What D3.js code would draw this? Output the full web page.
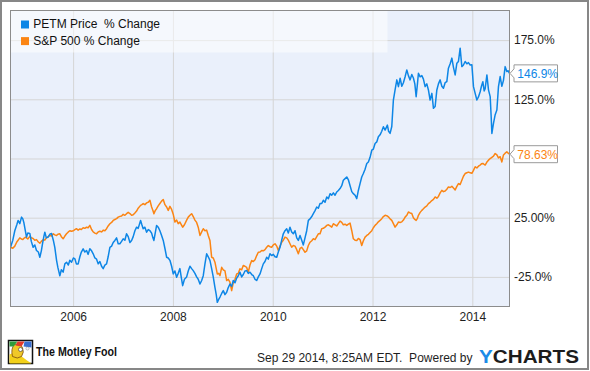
<!DOCTYPE html>
<html>
<head>
<meta charset="utf-8">
<script src="https://cdn.jsdelivr.net/npm/d3@7"></script>
<style>
  body { margin: 0; background: #fff; }
  svg { display: block; font-family: "Liberation Sans", Arial, sans-serif; }
</style>
</head>
<body>
<svg id="chart" width="590" height="371"></svg>
<script>
// dates as decimal years (Sep 29 2004 .. Sep 29 2014)
var times = [
  2004.745,2004.791,2004.831,2004.871,2004.897,2004.932,2004.966,2004.992,2005.012,2005.042,
  2005.066,2005.092,2005.132,2005.162,2005.198,2005.232,2005.266,2005.303,2005.333,2005.363,
  2005.387,2005.413,2005.433,2005.463,2005.499,2005.533,2005.567,2005.603,2005.633,2005.668,
  2005.694,2005.734,2005.764,2005.800,2005.834,2005.868,2005.904,2005.934,2005.968,2006.005,
  2006.035,2006.065,2006.101,2006.135,2006.165,2006.201,2006.235,2006.269,2006.301,2006.335,
  2006.370,2006.402,2006.436,2006.470,2006.502,2006.536,2006.570,2006.602,2006.636,2006.670,
  2006.702,2006.737,2006.771,2006.803,2006.837,2006.871,2006.903,2006.937,2006.971,2007.003,
  2007.037,2007.071,2007.104,2007.138,2007.172,2007.204,2007.238,2007.272,2007.304,2007.352,
  2007.378,2007.404,2007.438,2007.473,2007.505,2007.539,2007.573,2007.599,2007.619,2007.645,
  2007.673,2007.705,2007.739,2007.773,2007.806,2007.840,2007.874,2007.906,2007.940,2007.974,
  2008.006,2008.040,2008.074,2008.106,2008.140,2008.170,2008.195,2008.231,2008.275,2008.307,
  2008.341,2008.375,2008.407,2008.441,2008.475,2008.507,2008.542,2008.576,2008.608,2008.642,
  2008.676,2008.708,2008.742,2008.776,2008.808,2008.842,2008.868,2008.889,2008.917,2008.943,
  2008.977,2009.009,2009.043,2009.077,2009.109,2009.143,2009.177,2009.209,2009.244,2009.278,
  2009.310,2009.344,2009.378,2009.410,2009.444,2009.478,2009.510,2009.544,2009.579,2009.611,
  2009.645,2009.679,2009.711,2009.745,2009.779,2009.811,2009.845,2009.879,2009.911,2009.945,
  2009.979,2010.012,2010.046,2010.080,2010.112,2010.146,2010.180,2010.212,2010.246,2010.280,
  2010.312,2010.346,2010.380,2010.413,2010.447,2010.481,2010.513,2010.547,2010.581,2010.613,
  2010.647,2010.681,2010.714,2010.748,2010.782,2010.814,2010.848,2010.882,2010.914,2010.948,
  2010.982,2011.014,2011.048,2011.083,2011.115,2011.149,2011.183,2011.215,2011.249,2011.283,
  2011.315,2011.349,2011.383,2011.415,2011.450,2011.484,2011.516,2011.550,2011.584,2011.616,
  2011.650,2011.684,2011.716,2011.750,2011.784,2011.816,2011.851,2011.885,2011.917,2011.951,
  2011.985,2012.017,2012.051,2012.085,2012.117,2012.151,2012.185,2012.218,2012.252,2012.298,
  2012.322,2012.352,2012.386,2012.418,2012.452,2012.487,2012.519,2012.553,2012.587,2012.619,
  2012.653,2012.687,2012.719,2012.753,2012.787,2012.819,2012.848,2012.874,2012.900,2012.920,
  2012.954,2012.988,2013.020,2013.054,2013.088,2013.120,2013.154,2013.189,2013.221,2013.255,
  2013.289,2013.321,2013.355,2013.389,2013.421,2013.455,2013.489,2013.521,2013.556,2013.590,
  2013.622,2013.656,2013.690,2013.722,2013.756,2013.790,2013.822,2013.856,2013.890,2013.922,
  2013.957,2013.991,2014.023,2014.057,2014.091,2014.123,2014.157,2014.183,2014.211,2014.237,
  2014.257,2014.292,2014.324,2014.358,2014.378,2014.392,2014.424,2014.458,2014.492,2014.524,
  2014.558,2014.592,2014.624,2014.658,2014.692,2014.719,2014.745
];

var petmValues = [
  0,6,14,19,22.7,20,25.5,24,21,14,
  8.6,12,11.7,5,0,2,-2.7,-4,-8.4,-3,
  3,9,12.8,8,8.6,11,11.7,6,0,-11,
  -17,-24,-19,-21,-14,-12.6,-15,-11,-12.6,-9,
  -9.7,-14,-14,-8,-4,-1.3,-4,-2.7,-6,-1.3,
  -3,-5.5,-9,-10,-14,-12,-16,-18,-15,-14,
  -8,0,1,4,5.8,8,3,3,5,7.2,
  6,11.4,9,4,5.8,9,14,17,16,22.7,
  19,15.7,17,12.8,15,14,12,8,5.8,12,
  18.5,17,14,10,5.8,-1,-8.4,-9,-11,-16,
  -22.5,-20,-25.3,-22,-18,-26,-32.4,-27,-25,-20,
  -16,-18,-19.7,-22,-25,-27,-31,-28,-24,-14,
  -5.5,-8,-11,-18,-25,-33.8,-40,-46.5,-44,-42,
  -39,-36.6,-40,-38,-34,-31,-33,-28,-30,-26,
  -24,-21,-25,-23,-20,-19.7,-22,-21,-23,-24,
  -27,-28,-25,-22.5,-18,-14,-12,-8.4,-10,-5.5,
  -7,-6,-8,-8.4,-4,0,6,11.4,14,15.7,
  12,17,13,11.4,14,8,5.8,10,6,2,
  8,14,22.7,24,26,28.4,31,34,33,36.9,
  37,39.7,38,42.5,41,45.3,44,46,44,46.7,
  48,49.6,52,56.6,58,59.4,57,52,47,45.3,
  44,41.1,48,53.8,59.4,62.3,66,70.8,72,76,
  82,83,87.7,89,93.3,95,98,101.8,99,103.2,
  98,96.2,102,124.4,132.9,141.4,135.7,142.8,136,139,
  144,149.8,145,141.4,146,143,138,127.2,138,147,
  144,145,142,135.7,138,132.9,124.4,130,117.4,119,
  132.9,138,141.4,136,134.3,139,140,151.3,155,159.8,
  152,145.6,155.5,157,168.2,152.6,154,156.9,155,156,
  154,154.1,135.7,130,124.4,127,131.4,136,139.9,132,
  134,145.6,133,127.2,110,96.2,104.7,112,116,135.7,
  144.2,136,141,152.6,148.4,149,146.9
];

var spValues = [
  0,-0.8,1,4.5,6,8,7,6.5,7.5,8.5,
  8,7,9.2,8,7.5,6,6.5,4.5,3.5,5,
  6,6.4,6,8,9,10,9.5,11.4,10.5,10,
  11,11.4,9,7.2,9.5,11.4,13,14,13.5,14,
  15,15.7,14.5,15.5,15,16.5,16,17,16.5,18.5,
  15,13,12,11.4,13,13.6,13,14.5,14,15.7,
  18,19.9,21,22.7,23.5,24.2,25.5,26.1,26.5,27.8,
  27,28.4,29.5,28.5,27,27.5,29,30.6,33,35.4,
  36,36.9,36,37.5,38,39.7,34,31,28.4,31,
  32.6,35,37,39,40.3,36,34,31.2,34.6,32,
  28,21.3,23,20,21.3,19,17,19,23,25.5,
  27,28.4,26,23,21,17,10,13,15.7,14,
  14.5,10,5.8,-8.4,-9,-12.6,-18,-22.5,-22,-23.9,
  -16.9,-19,-20,-28.1,-27,-29.5,-36.6,-30,-27,-22.5,
  -22,-18.2,-19,-15.4,-16,-17,-21,-15,-11.2,-12,
  -10.5,-7,-4.2,-4,-2.7,-3,-2,0,1.5,0.5,
  0,2,3,1,-2.7,1,4.3,6,8.6,8,
  6,3,0,1.5,1,-2,-5.5,-1,0,-2,
  -4.2,-3,1.5,4.3,5.5,7.2,6.5,9,11.4,11.4,
  15.7,16,17,18.5,19,18,17,19.9,19,18,
  20,22.1,21,19,19.5,18.5,19.5,20.4,14,7.2,
  6,5.8,7.5,6.5,1.5,5.5,8.6,10,11,12.5,
  14,16.5,18.5,19.9,21.5,22.7,24.2,26,27,26.5,
  25.5,24,22.7,20,17,19,21.3,21,21.5,23,
  25.5,27,29.8,29,28.5,25,23.5,22.7,24.5,27,
  29.5,31.2,32.5,34,35,36.9,38,39.5,40.5,42.5,
  41.5,43,46,48.1,47,47.5,49,51,50.5,51.5,
  50,48.5,51.5,53.8,53,56.6,60,62.3,63,63.5,
  63,62.5,65,68,67,68.5,69.5,70.5,70.8,70,
  69.5,72,73.6,75,75.5,76,77,79.2,78,75.5,
  76.5,72.1,78,79.5,80.6,79.5,78.63
];

var seriesNames = ["PETM Price  % Change", "S&P 500 % Change"];
var lastLabels = ["146.9%", "78.63%"];
var yearTicks = [2006, 2008, 2010, 2012, 2014];
var valueTicks = [-25, 25, 75, 125, 175];
var valueTickLabels = ["-25.0%", "25.00%", "", "125.0%", "175.0%"];
var footerStamp = "Sep 29 2014, 8:25AM EDT.  Powered by";

var colors = ["#0d86e6", "#fb8514"];
var plot = { left: 10.5, top: 10.5, right: 509.5, bottom: 306.5 };

var svg = d3.select('#chart');

// outer frame
svg.append('rect')
  .attr('x', 1).attr('y', 1).attr('width', 587).attr('height', 368)
  .attr('fill', '#fff').attr('stroke', '#878787').attr('stroke-width', 2);

var x = d3.scaleLinear().domain([times[0], times[times.length - 1]]).range([plot.left, plot.right]);
var y = d3.scaleLinear().domain([-50, 200]).range([plot.bottom, plot.top]);

svg.append('rect')
  .attr('x', plot.left).attr('y', plot.top)
  .attr('width', plot.right - plot.left).attr('height', plot.bottom - plot.top)
  .attr('fill', '#eaf0fb');

// grid + tick labels from the axes
var xAxis = svg.append('g')
  .attr('transform', 'translate(0,' + plot.bottom + ')')
  .call(d3.axisBottom(x).tickValues(yearTicks).tickFormat(d3.format('d'))
    .tickSize(-(plot.bottom - plot.top)).tickPadding(5.5));

var yAxis = svg.append('g')
  .attr('transform', 'translate(' + plot.right + ',0)')
  .call(d3.axisRight(y).tickValues(valueTicks)
    .tickFormat(function (d, i) { return valueTickLabels[i]; })
    .tickSize(-(plot.right - plot.left)).tickPadding(4.5));

[xAxis, yAxis].forEach(function (g) {
  g.select('.domain').remove();
  g.selectAll('.tick line').attr('stroke', '#d5d5d5');
  g.selectAll('.tick text')
    .attr('fill', '#1e1e1e')
    .style('font-size', '12px')
    .style('font-family', '"Liberation Sans", Arial, sans-serif');
});

// legend backdrop
svg.append('rect')
  .attr('x', plot.left).attr('y', plot.top).attr('width', 377).attr('height', 42)
  .attr('fill', '#fff').attr('fill-opacity', 0.5);

// series lines
svg.append('clipPath').attr('id', 'plotclip')
  .append('rect')
  .attr('x', plot.left).attr('y', plot.top)
  .attr('width', plot.right - plot.left).attr('height', plot.bottom - plot.top);

var line = d3.line()
  .x(function (d, i) { return x(times[i]); })
  .y(function (d) { return y(d); });

var allSeries = [spValues, petmValues];
var allColors = [colors[1], colors[0]];

svg.append('g').attr('clip-path', 'url(#plotclip)')
  .selectAll('path')
  .data(allSeries)
  .enter().append('path')
    .attr('d', line)
    .attr('fill', 'none')
    .attr('stroke', function (d, i) { return allColors[i]; })
    .attr('stroke-width', 1.5)
    .attr('stroke-linejoin', 'round');

// plot frame
svg.append('rect')
  .attr('x', plot.left).attr('y', plot.top)
  .attr('width', plot.right - plot.left).attr('height', plot.bottom - plot.top)
  .attr('fill', 'none').attr('stroke', '#8c8c8c').attr('stroke-width', 1);

// legend
var legend = svg.append('g').selectAll('g')
  .data(seriesNames)
  .enter().append('g')
    .attr('transform', function (d, i) { return 'translate(21,' + (20.5 + i * 16.6) + ')'; });

legend.append('rect')
  .attr('width', 8).attr('height', 8)
  .attr('fill', function (d, i) { return colors[i]; });

legend.append('text')
  .attr('x', 12.3).attr('y', 7.6)
  .attr('fill', '#111')
  .style('font-size', '12px')
  .style('white-space', 'pre')
  .attr('xml:space', 'preserve')
  .text(function (d) { return d; });

// end-value flags
var lastValues = [petmValues[petmValues.length - 1], spValues[spValues.length - 1]];
var flags = svg.append('g').selectAll('g')
  .data(lastValues)
  .enter().append('g')
    .attr('transform', function (d) { return 'translate(' + plot.right + ',' + y(d) + ')'; });

flags.append('path')
  .attr('d', 'M0.5,0 L4.5,-4.5 L4.5,-8.5 L48,-8.5 L48,8.5 L4.5,8.5 L4.5,4.5 Z')
  .attr('fill', '#fff').attr('stroke', '#9a9a9a').attr('stroke-width', 1);

flags.append('text')
  .attr('x', 7.8).attr('dy', '0.36em')
  .attr('fill', function (d, i) { return colors[i]; })
  .style('font-size', '12px')
  .text(function (d, i) { return lastLabels[i]; });

// footer: Motley Fool mark
var fool = svg.append('g').attr('transform', 'translate(8.5,340.5)');
fool.append('rect').attr('width', 24).attr('height', 23).attr('fill', '#fff')
  .attr('stroke', '#111').attr('stroke-width', 1.5);
fool.append('path').attr('d', 'M1,23 L1,14 Q6,11 12,15 Q17,19 23,23 Z').attr('fill', '#f3d11a');
fool.append('path').attr('d', 'M4,16 Q2,8 6,4 Q11,2 14,7 Q16,12 13,16 Q9,19 4,16 Z')
  .attr('fill', '#f0c828').attr('stroke', '#7a4a10').attr('stroke-width', 0.8);
fool.append('path').attr('d', 'M1,1 L9,1 L5,6 L1,6 Z').attr('fill', '#2e9c3c');
fool.append('path').attr('d', 'M9,1 L16,1 L13,6 L7,5 Z').attr('fill', '#e23a2a');
fool.append('path').attr('d', 'M16,1 L23,1 L23,7 L15,6 Z').attr('fill', '#3a6fd0');
fool.append('circle').attr('cx', 12).attr('cy', 9).attr('r', 2).attr('fill', '#fff').attr('stroke', '#333').attr('stroke-width', 0.6);
fool.append('circle').attr('cx', 19).attr('cy', 8).attr('r', 1.6).attr('fill', '#f4f4f4').attr('stroke', '#888').attr('stroke-width', 0.5);

svg.append('text')
  .attr('x', 36).attr('y', 355.7)
  .attr('fill', '#111')
  .attr('textLength', 81).attr('lengthAdjust', 'spacingAndGlyphs')
  .style('font-size', '13.5px').style('font-weight', 'bold')
  .text('The Motley Fool');

// footer: timestamp + YCharts
svg.append('text')
  .attr('x', 472.5).attr('y', 361.5)
  .attr('text-anchor', 'end')
  .attr('fill', '#1e1e1e')
  .attr('xml:space', 'preserve')
  .style('font-size', '12px')
  .text(footerStamp);

var yc = svg.append('text')
  .attr('x', 479).attr('y', 363.3)
  .attr('textLength', 100).attr('lengthAdjust', 'spacingAndGlyphs')
  .style('font-size', '17.5px').style('font-weight', 'bold');
yc.append('tspan').attr('fill', '#1b8be8').text('Y');
yc.append('tspan').attr('fill', '#1c1c1c').text('CHARTS');
</script>
</body>
</html>
